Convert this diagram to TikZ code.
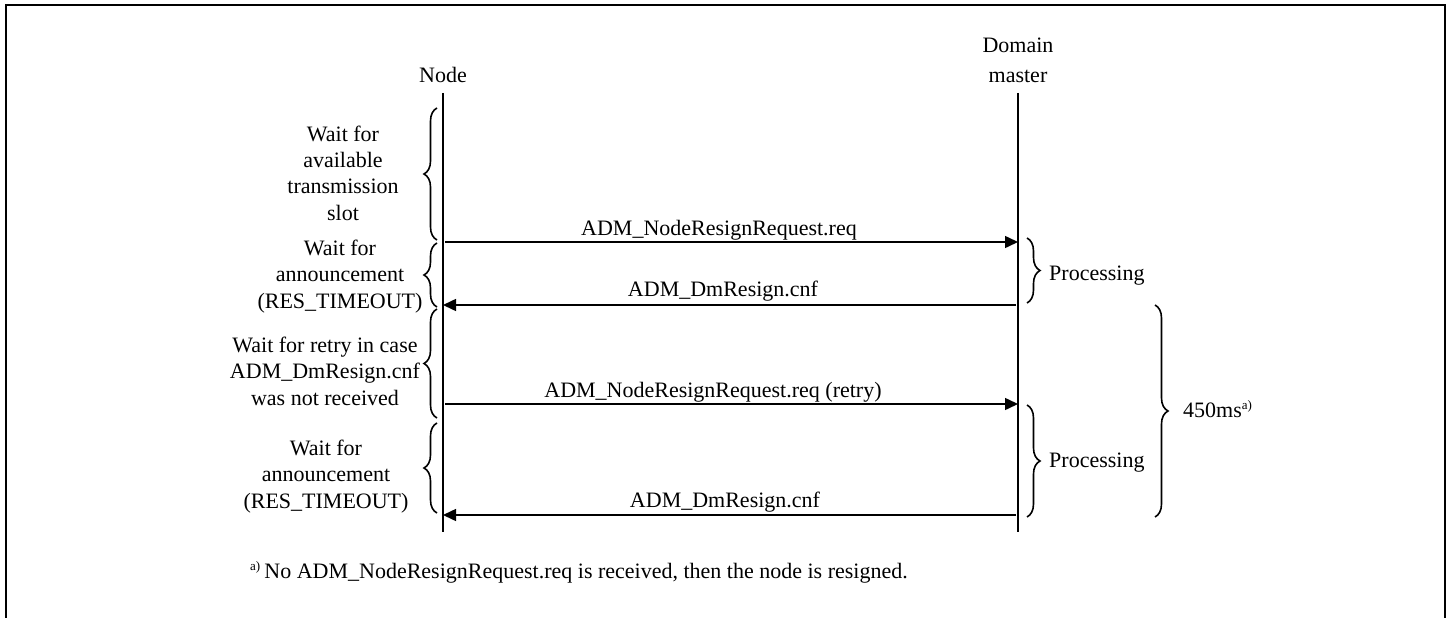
\documentclass[tikz,border=0pt]{standalone}
\usepackage{fontspec}
\setmainfont{Liberation Serif}
\usetikzlibrary{arrows.meta,decorations.pathreplacing}
\begin{document}
\begin{tikzpicture}[x=1pt,y=-1pt,
  txt/.style={font=\fontsize{22}{26.3}\selectfont, inner sep=0pt, align=center},
  life/.style={line width=1.2pt},
  msg/.style={line width=1.5pt, -{Triangle[length=13pt,width=12pt]}},
  lbrace/.style={decorate, decoration={brace, amplitude=13pt}, line width=1.6pt},
  rbrace/.style={decorate, decoration={brace, amplitude=13pt}, line width=1.6pt},
]
\useasboundingbox (0,0) rectangle (1449,618);
\draw[line width=1.3pt] (6,618) -- (6,5) -- (1445,5) -- (1445,618);

% lifelines
\node[txt, anchor=base] (nodelbl) at (443,82) {Node};
\node[txt, anchor=base] (dmlbl) at (1018,82) {Domain\\[3pt]master};
\coordinate (ntop) at (443,93);
\coordinate (nbot) at (443,532);
\coordinate (dtop) at (1018,93);
\coordinate (dbot) at (1018,532);
\draw[life] (ntop) -- (nbot);
\draw[life] (dtop) -- (dbot);

% messages
\coordinate (n1) at (445,242); \coordinate (d1) at (1018,242);
\coordinate (n2) at (443,305); \coordinate (d2) at (1016,305);
\coordinate (n3) at (445,404); \coordinate (d3) at (1018,404);
\coordinate (n4) at (443,515); \coordinate (d4) at (1016,515);
\draw[msg] (n1) -- (d1);
\draw[msg] (d2) -- (n2);
\draw[msg] (n3) -- (d3);
\draw[msg] (d4) -- (n4);
\node[txt, anchor=base] (m1) at (719,235) {ADM\_NodeResignRequest.req};
\node[txt, anchor=base] (m2) at (723,296) {ADM\_DmResign.cnf};
\node[txt, anchor=base] (m3) at (713,397) {ADM\_NodeResignRequest.req (retry)};
\node[txt, anchor=base] (m4) at (725,507) {ADM\_DmResign.cnf};

% left braces and texts
\draw[lbrace] (437,240) -- (437,108);
\draw[lbrace] (437,307) -- (437,243);
\draw[lbrace] (437,418) -- (437,309);
\draw[lbrace] (437,513) -- (437,423);
\node[txt, anchor=base] (w1) at (343,220) {Wait for\\available\\transmission\\slot};
\node[txt, anchor=base] (w2) at (340,308) {Wait for\\announcement\\(RES\_TIMEOUT)};
\node[txt, anchor=base] (w3) at (325,405) {Wait for retry in case\\ADM\_DmResign.cnf\\was not received};
\node[txt, anchor=base] (w4) at (326,508) {Wait for\\announcement\\(RES\_TIMEOUT)};

% right braces
\draw[rbrace] (1027,238) -- (1027,303);
\draw[rbrace] (1027,405) -- (1027,517);
\draw[rbrace] (1155,305) -- (1155,517);
\node[txt, anchor=base west] (p1) at (1049,280) {Processing};
\node[txt, anchor=base west] (p2) at (1049,467) {Processing};
\node[txt, anchor=base west] (t450) at (1183,417) {450ms\textsuperscript{\fontsize{13}{13}\selectfont a)}};

% footnote
\node[txt, anchor=base west] (fn) at (250,578) {\textsuperscript{\fontsize{13}{13}\selectfont a)}\,No ADM\_NodeResignRequest.req is received, then the node is resigned.};
\end{tikzpicture}
\end{document}
